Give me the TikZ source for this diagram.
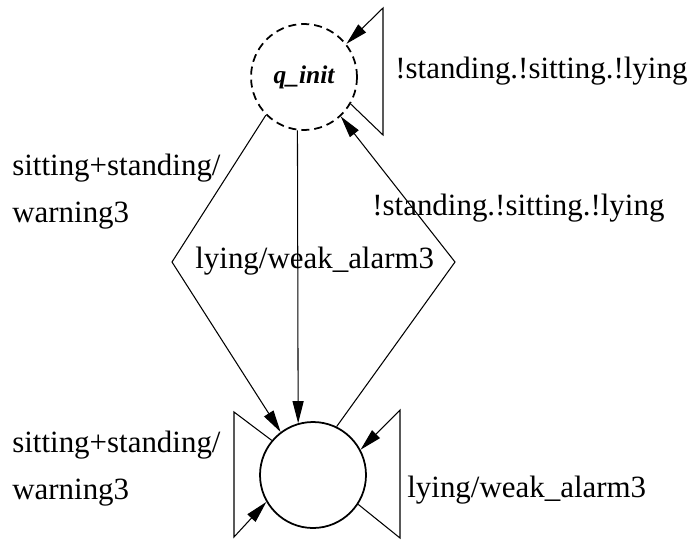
\documentclass[tikz,border=0pt]{standalone}
\usepackage{fontspec}
\setmainfont{Liberation Serif}
\usetikzlibrary{arrows.meta}
\newcommand{\diam}{2.12cm}
\tikzstyle{etat}=[circle, draw, line width=1pt, minimum size=\diam, inner sep=0]
\tikzstyle{depart}=[etat, dash pattern=on 0.16cm off 0.1cm]
\tikzstyle{trans}=[line width=0.6pt, -{Triangle[length=0.44cm,width=0.22cm]}]
\tikzstyle{etiq}=[inner sep=0, font=\fontsize{17.6}{26.7}\selectfont, align=left]
\begin{document}
\begin{tikzpicture}
\useasboundingbox (0,0) rectangle (13.86,10.84);

% etats
\node[depart] (init) at (6.08,9.30) {\fontsize{14.5}{16}\selectfont\bfseries\itshape q\_init};
\node[etat] (warn) at (6.26,1.34) {};

% coins
\coordinate (dl) at (3.44,5.60);
\coordinate (dr) at (9.10,5.60);
\coordinate (tb) at (7.66,8.14);
\coordinate (th) at (7.66,10.68);
\coordinate (gh) at (4.68,2.60);
\coordinate (gb) at (4.68,0.10);
\coordinate (db) at (8.00,0.08);
\coordinate (dh) at (8.00,2.64);

% transitions
\draw[trans] (init.-97) -- (warn.106);
\draw[trans] (init.-135) -- (dl) -- (warn.127);
\draw[trans] (warn.64) -- (dr) -- (init.-47);
\draw[trans] (init.-30) -- (tb) -- (th) -- (init.38);
\draw[trans] (warn.140) -- (gh) -- (gb) -- (warn.-150);
\draw[trans] (warn.-33) -- (db) -- (dh) -- (warn.28);

% etiquettes (base = derniere ligne)
\node[etiq, anchor=base west] (l1) at (7.90,9.28) {!standing.!sitting.!lying};
\node[etiq, anchor=base west] (l2) at (7.44,6.54) {!standing.!sitting.!lying};
\node[etiq, anchor=base west] (l3) at (0.24,6.40) {sitting+standing/\\warning3};
\node[etiq, anchor=base west] (l4) at (3.90,5.48) {lying/weak\_alarm3};
\node[etiq, anchor=base west] (l5) at (0.24,0.86) {sitting+standing/\\warning3};
\node[etiq, anchor=base west] (l6) at (8.14,0.90) {lying/weak\_alarm3};
\end{tikzpicture}
\end{document}
